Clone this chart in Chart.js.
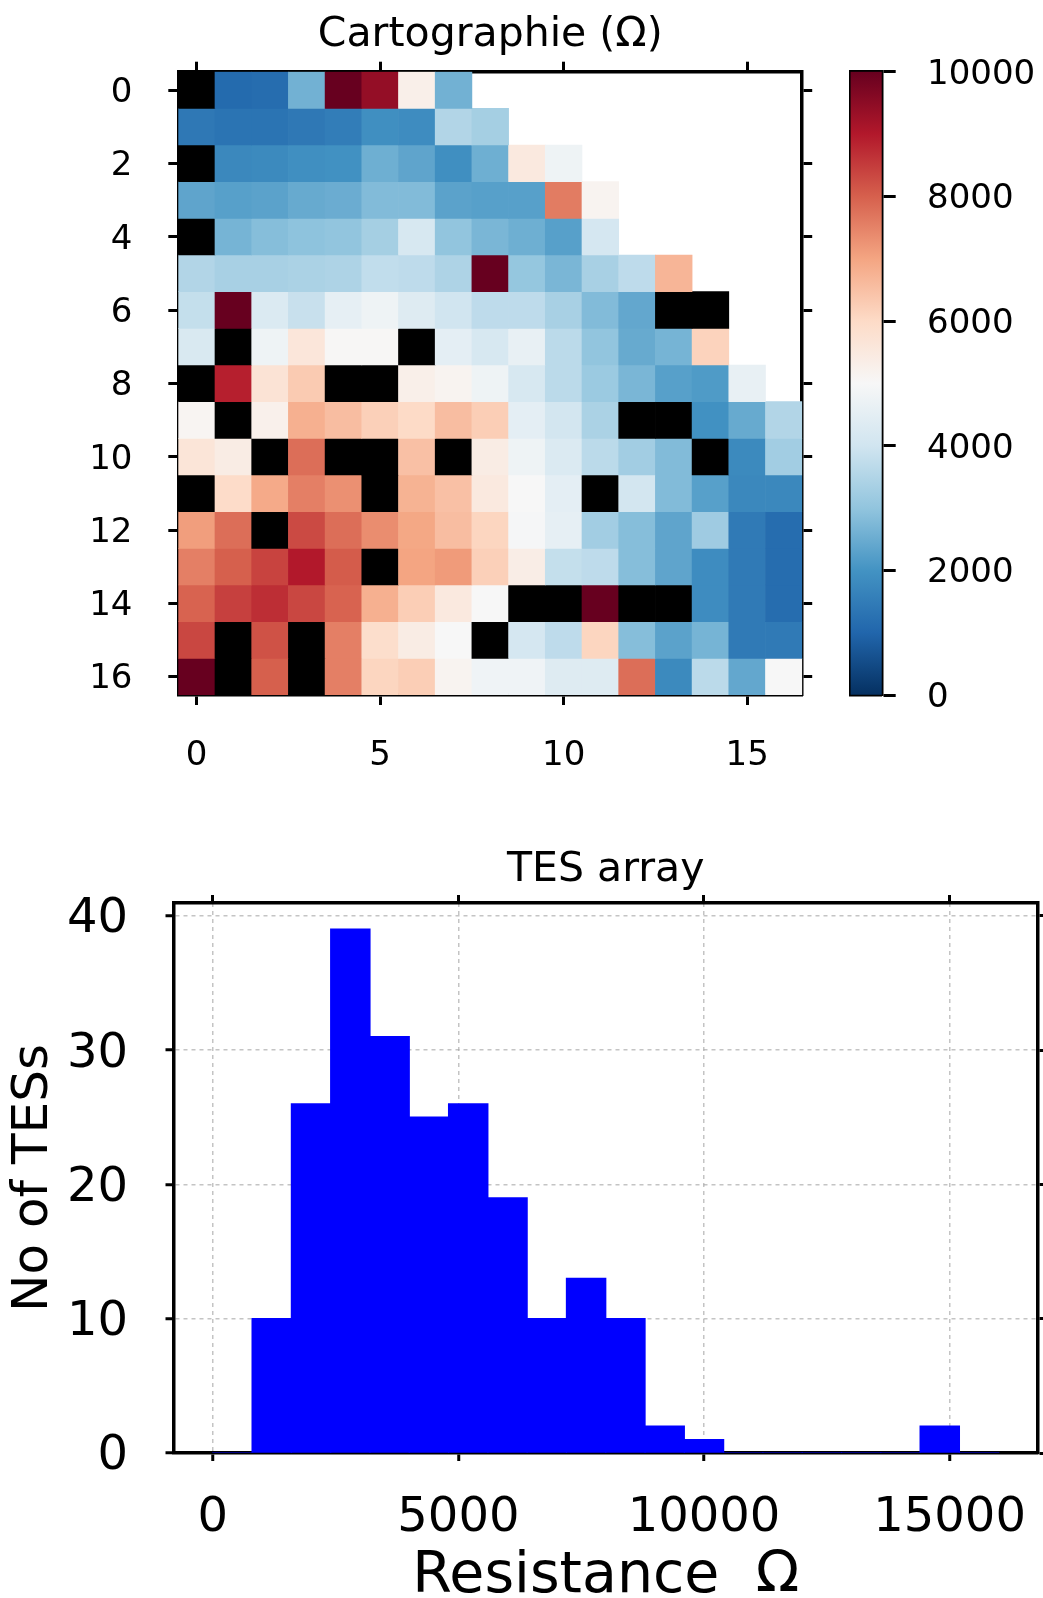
<!DOCTYPE html>
<html>
<head>
<meta charset="utf-8">
<script src="https://cdn.jsdelivr.net/npm/chart.js@4"></script>
<style>
  body { margin:0; background:#fff; width:1043px; height:1598px; position:relative; overflow:hidden; }
  canvas { position:absolute; }
</style>
</head>
<body>
<canvas id="carto" width="840" height="800" style="left:0;top:0"></canvas>
<canvas id="cbar" width="203" height="800" style="left:840px;top:0"></canvas>
<canvas id="hist" width="1043" height="778" style="left:0;top:820px"></canvas>
<script>
// carte des résistances (ohm) ligne par ligne
// null = pas de TES (blanc), -1 = TES mort (noir)
var resistance = [
  [-1, 1100, 1150, 2600, 10000, 9400, 5300, 2600, null, null, null, null, null, null, null, null, null],
  [1400, 1300, 1300, 1400, 1500, 1900, 1850, 3500, 3300, null, null, null, null, null, null, null, null],
  [-1, 1750, 1800, 1900, 1950, 2550, 2350, 1900, 2550, 5500, 4750, null, null, null, null, null, null],
  [2350, 2250, 2300, 2450, 2500, 2800, 2800, 2300, 2250, 2250, 7600, 5150, null, null, null, null, null],
  [-1, 2650, 2850, 2950, 3000, 3300, 4150, 3000, 2700, 2550, 2250, 4100, null, null, null, null, null],
  [3500, 3350, 3350, 3400, 3450, 3750, 3700, 3450, 10000, 3050, 2700, 3350, 3700, 6700, null, null, null],
  [3800, 10000, 4250, 3850, 4550, 4750, 4350, 4000, 3700, 3700, 3350, 2800, 2400, -1, -1, null, null],
  [4200, -1, 4750, 5600, 5050, 5050, -1, 4500, 4150, 4600, 3650, 3000, 2450, 2650, 6150, null, null],
  [-1, 8900, 5700, 6300, -1, -1, 5300, 5150, 4750, 4150, 3650, 3150, 2700, 2250, 2150, 4600, null],
  [5100, -1, 5250, 6800, 6550, 6200, 6000, 6550, 6250, 4500, 4050, 3400, -1, -1, 1950, 2450, 3500],
  [5650, 5400, -1, 7800, -1, -1, 6500, -1, 5400, 4750, 4250, 3650, 3250, 2800, -1, 1800, 3250],
  [-1, 5950, 6900, 7550, 7300, -1, 6750, 6500, 5500, 5000, 4500, -1, 4050, 2800, 2250, 1750, 1750],
  [7100, 7800, -1, 8300, 7800, 7350, 6950, 6550, 6100, 4950, 4550, 3250, 2850, 2350, 3200, 1450, 1150],
  [7550, 8000, 8400, 9000, 8050, -1, 7000, 7150, 6200, 5350, 3800, 3700, 2850, 2350, 1850, 1450, 1150],
  [7950, 8450, 8700, 8350, 7950, 6800, 6250, 5500, 5000, -1, -1, 10000, -1, -1, 1850, 1450, 1150],
  [8350, -1, 8200, -1, 7550, 5900, 5400, 5000, -1, 4100, 3700, 6100, 2850, 2300, 2650, 1450, 1450],
  [10000, -1, 8000, -1, 7550, 6100, 6250, 5150, 4800, 4800, 4350, 4350, 7800, 1800, 3650, 2400, 5000]
];
var colTicks = [0, 5, 10, 15];
var rowTicks = [0, 2, 4, 6, 8, 10, 12, 14, 16];
var cbarTicks = [0, 2000, 4000, 6000, 8000, 10000];
var vmin = 0, vmax = 10000;

// histogramme
var binEdges = [0, 800, 1600, 2400, 3200, 4000, 4800, 5600, 6400, 7200, 8000,
                8800, 9600, 10400, 11200, 12000, 12800, 13600, 14400, 15200, 16000];
var counts = [0, 10, 26, 39, 31, 25, 26, 19, 10, 13, 10, 2, 1, 0, 0, 0, 0, 0, 2, 0];
var histXTicks = [0, 5000, 10000, 15000];
var histYTicks = [0, 10, 20, 30, 40];

// RdBu_r
var rdbu = ['#053061','#2166ac','#4393c3','#92c5de','#d1e5f0','#f7f7f7','#fddbc7','#f4a582','#d6604d','#b2182b','#67001f'];

function hex2rgb(h){
  return [parseInt(h.substr(1,2),16), parseInt(h.substr(3,2),16), parseInt(h.substr(5,2),16)];
}
function cmap(v){
  if (v < 0) return '#000000';
  var t = (v - vmin) / (vmax - vmin);
  t = Math.max(0, Math.min(1, t));
  var s = t * 10;
  var i = Math.min(9, Math.floor(s));
  var f = s - i;
  var a = hex2rgb(rdbu[i]), b = hex2rgb(rdbu[i+1]);
  var c = [0,1,2].map(function(k){ return Math.round(a[k] + (b[k]-a[k])*f); });
  return 'rgb(' + c.join(',') + ')';
}

Chart.defaults.font.family = 'DejaVu Sans';
Chart.defaults.color = '#000';
Chart.defaults.animation = false;

var SPINE = 3.5;

function setTicks(list){
  return function(s){ s.ticks = list.map(function(v){ return {value: v}; }); };
}
function noPad(s){ s.paddingLeft = 0; s.paddingRight = 0; s.paddingTop = 0; s.paddingBottom = 0; }
function fixW(w){ return function(s){ s.width = w; noPad(s); }; }
function fixH(h){ return function(s){ s.height = h; noPad(s); }; }

function tickGrid(len){
  return {drawOnChartArea:false, drawTicks:true, offset:false, tickLength:len, tickWidth:3, tickColor:'#000'};
}

// ---------- carte ----------
var cartoSets = resistance.map(function(row, r){
  var cells = [];
  row.forEach(function(v, c){ if (v !== null) cells.push({v: v, c: c}); });
  return {
    data: cells.map(function(o){ return {x: o.c, y: [r - 0.5, r + 0.5]}; }),
    backgroundColor: cells.map(function(o){ return cmap(o.v); }),
    borderWidth: 0,
    barPercentage: 1,
    categoryPercentage: 1,
    grouped: false
  };
});

var HT = 10;
new Chart(document.getElementById('carto'), {
  type: 'bar',
  data: {datasets: cartoSets},
  options: {
    responsive: false,
    devicePixelRatio: 1,
    events: [],
    layout: {padding: 0, autoPadding: false},
    plugins: {
      legend: {display: false},
      tooltip: {enabled: false},
      title: {display: true, text: 'Cartographie (Ω)', fullSize: false, color: '#000',
              font: {size: 41, weight: 'normal', lineHeight: 1}, padding: {top: 15, bottom: 3.7}}
    },
    scales: {
      x: {type: 'linear', position: 'bottom', min: -0.5, max: 16.5, offset: false,
          afterBuildTicks: setTicks(colTicks), afterFit: fixH(105),
          ticks: {font: {size: 34, lineHeight: 1}, padding: 34.5, maxRotation: 0, autoSkip: false,
                  callback: function(v){ return String(v); }},
          grid: tickGrid(HT), border: {width: SPINE, color: '#000'}},
      xTop: {type: 'linear', position: 'top', min: -0.5, max: 16.5, offset: false,
          afterBuildTicks: setTicks(colTicks), afterFit: fixH(12),
          ticks: {display: false}, grid: tickGrid(HT), border: {width: SPINE, color: '#000'}},
      y: {type: 'linear', position: 'left', min: -0.5, max: 16.5, reverse: true,
          afterBuildTicks: setTicks(rowTicks), afterFit: fixW(178.3),
          ticks: {font: {size: 34, lineHeight: 1}, padding: 35.8, autoSkip: false, labelOffset: 3,
                  callback: function(v){ return String(v); }},
          grid: tickGrid(HT), border: {width: SPINE, color: '#000'}},
      yRight: {type: 'linear', position: 'right', min: -0.5, max: 16.5, reverse: true,
          afterBuildTicks: setTicks(rowTicks), afterFit: fixW(840 - 802.2),
          ticks: {display: false}, grid: tickGrid(HT), border: {width: SPINE, color: '#000'}}
    }
  }
});

// ---------- barre de couleur ----------
function cbarGradient(ctx){
  var chart = ctx.chart;
  var ys = chart.scales.y;
  if (!ys || !chart.chartArea) return null;
  var g = chart.ctx.createLinearGradient(0, ys.getPixelForValue(vmin), 0, ys.getPixelForValue(vmax));
  rdbu.forEach(function(col, k){ g.addColorStop(k / (rdbu.length - 1), col); });
  return g;
}

new Chart(document.getElementById('cbar'), {
  type: 'bar',
  data: {labels: [''], datasets: [{data: [[vmin, vmax]], backgroundColor: cbarGradient,
         borderWidth: 0, barPercentage: 1, categoryPercentage: 1}]},
  options: {
    responsive: false,
    devicePixelRatio: 1,
    events: [],
    layout: {padding: 0, autoPadding: false},
    plugins: {legend: {display: false}, tooltip: {enabled: false}},
    scales: {
      x: {position: 'bottom', afterFit: fixH(105), ticks: {display: false},
          grid: {display: false}, border: {width: SPINE, color: '#000'}},
      xTop: {position: 'top', afterFit: fixH(71.7), ticks: {display: false},
          grid: {display: false}, border: {width: SPINE, color: '#000'}},
      y: {type: 'linear', position: 'right', min: vmin, max: vmax,
          afterBuildTicks: setTicks(cbarTicks), afterFit: fixW(203 - 41.7),
          ticks: {font: {size: 34, lineHeight: 1}, padding: 31.3, labelOffset: 3,
                  callback: function(v){ return String(v); }},
          grid: tickGrid(14), border: {width: SPINE, color: '#000'}},
      yLeft: {type: 'linear', position: 'left', min: vmin, max: vmax, afterFit: fixW(10.5),
          ticks: {display: false}, grid: {display: false}, border: {width: SPINE, color: '#000'}}
    }
  }
});

// ---------- histogramme ----------
var gridCol = 'rgba(165,165,165,0.65)';
var histData = counts.map(function(n, i){
  return {x: (binEdges[i] + binEdges[i+1]) / 2, y: n};
});

function dashGrid(){
  return {drawOnChartArea: true, offset: false, color: gridCol, lineWidth: 1.5,
          tickLength: 8, tickWidth: 3, tickColor: '#000'};
}

new Chart(document.getElementById('hist'), {
  type: 'bar',
  data: {datasets: [{data: histData, backgroundColor: '#0000ff', borderWidth: 0,
         barPercentage: 1, categoryPercentage: 1, inflateAmount: 0.6}]},
  options: {
    responsive: false,
    devicePixelRatio: 1,
    events: [],
    layout: {padding: 0, autoPadding: false},
    plugins: {
      legend: {display: false},
      tooltip: {enabled: false},
      title: {display: true, text: 'TES array', fullSize: false, color: '#000',
              font: {size: 41, weight: 'normal', lineHeight: 1}, padding: {top: 30, bottom: 0}}
    },
    scales: {
      x: {type: 'linear', position: 'bottom', min: -800, max: 16800, offset: false, z: 1,
          afterBuildTicks: setTicks(histXTicks), afterFit: fixH(778 - 633),
          ticks: {font: {size: 48, lineHeight: 1}, padding: 34, maxRotation: 0, autoSkip: false,
                  callback: function(v){ return String(v); }},
          grid: dashGrid(),
          border: {width: SPINE, color: '#000', dash: [4, 4]},
          title: {display: true, text: 'Resistance  Ω', color: '#000',
                  font: {size: 57, lineHeight: 0.7}, padding: {top: 0, bottom: 1}}},
      xTop: {type: 'linear', position: 'top', min: -800, max: 16800, offset: false, z: 1,
          afterBuildTicks: setTicks(histXTicks), afterFit: fixH(12),
          ticks: {display: false}, grid: tickGrid(8), border: {width: SPINE, color: '#000'}},
      y: {type: 'linear', position: 'left', min: 0, max: 40.95, z: 1,
          afterBuildTicks: setTicks(histYTicks), afterFit: fixW(173.5),
          ticks: {font: {size: 48, lineHeight: 1}, padding: 37.5, labelOffset: 4,
                  callback: function(v){ return String(v); }},
          grid: dashGrid(),
          border: {width: SPINE, color: '#000', dash: [4, 4]},
          title: {display: true, text: 'No of TESs', color: '#000',
                  font: {size: 50, lineHeight: 1}, padding: {top: 9.5, bottom: 0}}},
      yRight: {type: 'linear', position: 'right', min: 0, max: 40.95, z: 1,
          afterBuildTicks: setTicks(histYTicks), afterFit: fixW(1043 - 1038),
          ticks: {display: false}, grid: tickGrid(8), border: {width: SPINE, color: '#000'}}
    }
  }
});
</script>
</body>
</html>
